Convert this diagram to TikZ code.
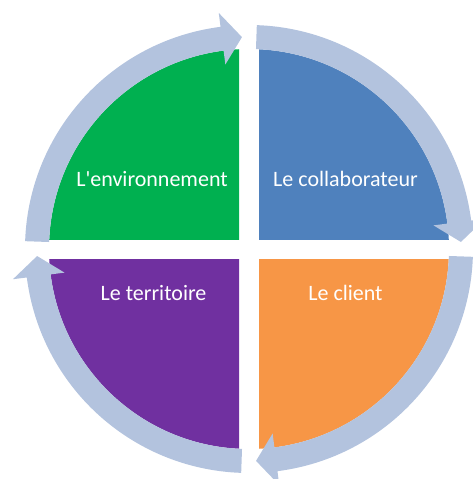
\documentclass[tikz,border=0pt]{standalone}
\usepackage{fontspec}
\newfontfamily\lblfont{Carlito}
\definecolor{qgreen}{RGB}{0,176,80}
\definecolor{qblue}{RGB}{79,129,189}
\definecolor{qorange}{RGB}{247,150,70}
\definecolor{qpurple}{RGB}{112,48,160}
\definecolor{ringc}{RGB}{179,195,222}
\tikzset{
  lbl/.style={text=white, font=\lblfont\fontsize{22}{26}\selectfont, anchor=base, inner sep=0pt},
  ringarrow/.style={fill=ringc, draw=none}
}
\begin{document}
\begin{tikzpicture}[x=1pt,y=1pt]
\useasboundingbox (-249,-230) rectangle (224,249);
% quadrants
\begin{scope}
  \clip (-300,10) rectangle (-10,300);
  \fill[qgreen] (0,0) circle (200pt);
\end{scope}
\begin{scope}
  \clip (10,10) rectangle (300,300);
  \fill[qblue] (0,0) circle (200pt);
\end{scope}
\begin{scope}
  \clip (10,-10) rectangle (300,-300);
  \fill[qorange] (0,0) circle (200pt);
\end{scope}
\begin{scope}
  \clip (-300,-10) rectangle (-10,-300);
  \fill[qpurple] (0,0) circle (200pt);
\end{scope}
% circular arrows
\foreach \r in {0,-90,-180,-270}{
  \fill[ringarrow, rotate=\r]
    (178:224pt) arc[start angle=178, end angle=97.3, radius=224pt]
    -- (97.3:238pt) -- (91.9:212pt) -- (97.3:186pt) -- (97.3:200pt)
    arc[start angle=97.3, end angle=178, radius=200pt] -- cycle;
}
% labels
\node[lbl] (env) at (-97,63) {L'environnement};
\node[lbl] (col) at (96.5,63) {Le collaborateur};
\node[lbl] (ter) at (-95.5,-51) {Le territoire};
\node[lbl] (cli) at (96.5,-51) {Le client};
\end{tikzpicture}
\end{document}
